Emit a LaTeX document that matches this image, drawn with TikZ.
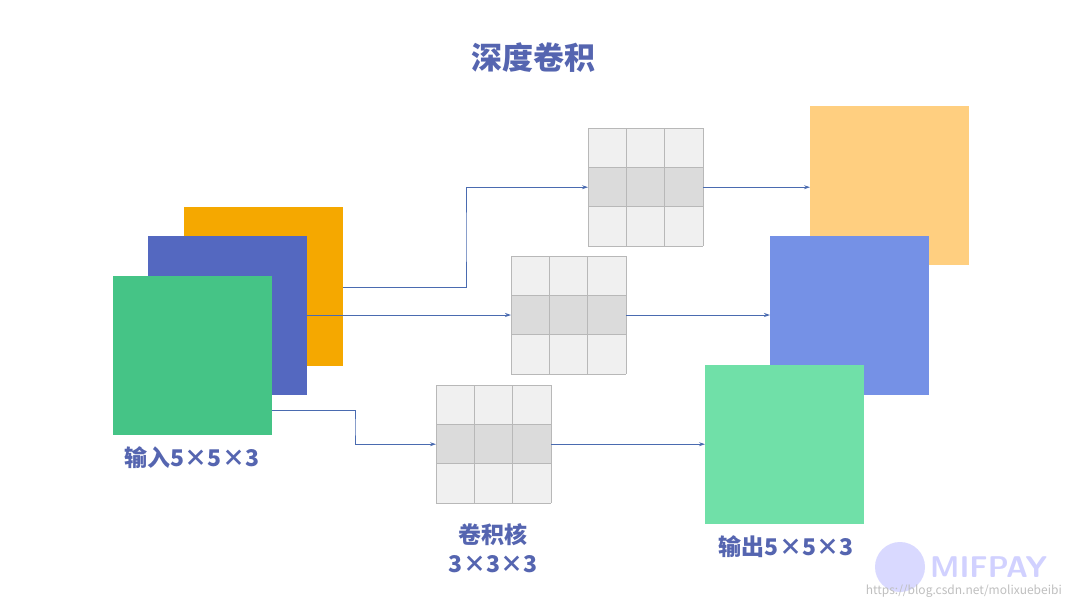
\documentclass[tikz,border=0pt]{standalone}
\usepackage{fontspec}
\setmainfont{Noto Sans CJK SC}
\usetikzlibrary{arrows.meta}
\definecolor{tc}{HTML}{5565B0}
\definecolor{ac}{HTML}{4A6BB0}
\begin{document}
\begin{tikzpicture}[x=1pt,y=-1pt,
  lbl/.style={text=tc,font=\fontsize{23}{29}\selectfont\bfseries,inner sep=0},
  arr/.style={draw=ac,line width=0.8pt,-{Stealth[length=6pt,width=4pt]}},
  sq/.style={draw=none,minimum size=159pt,inner sep=0,anchor=north west}]
\useasboundingbox[fill=white] (0,0) rectangle (1080,608);
\node[lbl,font=\fontsize{31}{36}\selectfont\bfseries] (title) at (533,58) {深度卷积};
% input
\node[sq,fill={rgb,255:red,245;green,168;blue,0}] (i1) at (184,207) {};
\node[sq,fill={rgb,255:red,84;green,104;blue,192}] (i2) at (148,236) {};
\node[sq,fill={rgb,255:red,69;green,196;blue,134}] (i3) at (113,276) {};
\node[lbl] (inl) at (192,458) {输入5×5×3};
% outputs
\node[sq,fill={rgb,255:red,255;green,207;blue,128}] (o1) at (810,106) {};
\node[sq,fill={rgb,255:red,117;green,145;blue,230}] (o2) at (770,236) {};
\node[sq,fill={rgb,255:red,112;green,224;blue,168}] (o3) at (705,365) {};
\node[lbl] (outl) at (786,547) {输出5×5×3};
% kernels
\foreach \n/\x/\y in {k1/588/128,k2/511/256,k3/436/385}{
  \foreach \r in {0,1,2}{\foreach \c in {0,1,2}{
    \pgfmathsetmacro{\sh}{\r==1?14:6}
    \fill[black!\sh] (\x+\c*38.3,\y+\r*39.3) rectangle ++(38.3,39.3);
  }}
  \foreach \c in {0,1,2,3}{\draw[black!28,line width=0.8pt] (\x+\c*38.3,\y) -- ++(0,118);}
  \foreach \r in {0,1,2,3}{\draw[black!28,line width=0.8pt] (\x,\y+\r*39.3) -- ++(115,0);}
  \node[inner sep=0,minimum width=115pt,minimum height=118pt,anchor=north west] (\n) at (\x,\y) {};
}
\node[lbl,align=center] (kl) at (493,548) {卷积核\\3×3×3};
% arrows
\draw[arr] (i1.east|-0,287) -| (466,237) |- (k1.west);
\draw[arr] (k1.east) -- (k1.east-|o1.west);
\draw[arr] (i2.east|-0,315) -- (k2.west|-0,315);
\draw[arr] (k2.east|-0,315) -- (o2.west|-0,315);
\draw[arr] (i3.east|-0,410) -| (355,427) |- (k3.west);
\draw[arr] (k3.east) -- (k3.east-|o3.west);
% watermark
\node[circle,fill=blue!15,minimum size=50pt,inner sep=0] (wm) at (900,567) {};
\node[text=blue!18,font=\sffamily\fontsize{30}{30}\selectfont\bfseries,anchor=west,inner sep=0] (wmt) at (930,567) {MIFPAY};
\node[text=black!25,font=\fontsize{12}{12}\selectfont,anchor=east,inner sep=0] (url) at (1062,591) {https://blog.csdn.net/molixuebeibi};
\end{tikzpicture}
\end{document}
